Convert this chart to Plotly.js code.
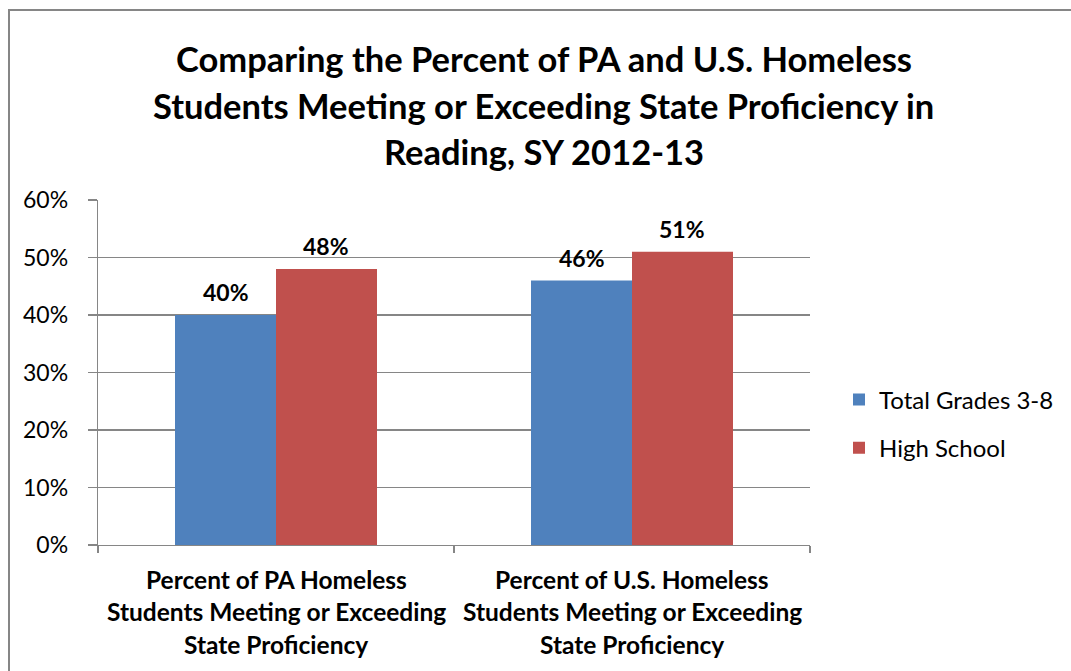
<!DOCTYPE html>
<html>
<head>
<meta charset="utf-8">
<script src="https://cdn.plot.ly/plotly-3.0.1.min.js"></script>
<style>
  html, body { margin: 0; padding: 0; background: #ffffff; }
  #chart { width: 1071px; height: 671px; }
</style>
</head>
<body>
<div id="chart"></div>
<script>
// ---- data ----
const categories = [
  "Percent of PA Homeless<br>Students Meeting or Exceeding<br>State Proficiency",
  "Percent of U.S. Homeless<br>Students Meeting or Exceeding<br>State Proficiency"
];
const seriesNames = ["Total Grades 3-8", "High School"];
const grades38 = [0.40, 0.46];
const highSchool = [0.48, 0.51];
const titleLines = [
  "Comparing the Percent of PA and U.S. Homeless",
  "Students Meeting or Exceeding State Proficiency in",
  "Reading, SY 2012-13"
];
const yTickVals = [0, 0.1, 0.2, 0.3, 0.4, 0.5, 0.6];

// ---- layout geometry ----
const W = 1071, H = 671;
const L = 98, R = 261, T = 200, B = 126;
const PW = W - L - R, PH = H - T - B;
const px2x = p => (p - L) / PW;
const px2y = p => (H - B - p) / PH;

const FONT = "Lato, 'Open Sans', 'Liberation Sans', sans-serif";
const blue = "#4F81BD", red = "#C0504D", gray = "#868686";

const traces = [
  { type: "bar", name: seriesNames[0], x: categories, y: grades38,
    marker: { color: blue }, legendgroup: "a", hoverinfo: "y" },
  { type: "bar", name: seriesNames[1], x: categories, y: highSchool,
    marker: { color: red }, legendgroup: "b", hoverinfo: "y" }
];

const annotations = [];
// title lines
const titleY = [58, 105, 152];
titleLines.forEach((t, i) => {
  annotations.push({
    text: "<b>" + t + "</b>", xref: "paper", yref: "paper",
    x: px2x(W / 2 + 8), y: px2y(titleY[i]), xanchor: "center", yanchor: "middle",
    showarrow: false, font: { family: FONT, size: 34.5, color: "#000" }
  });
});
// category labels
const catY = [579, 611, 644];
categories.forEach(c => {
  c.split("<br>").forEach((line, i) => {
    annotations.push({
      text: "<b>" + line + "</b>", xref: "x", yref: "paper",
      x: c, y: px2y(catY[i]), xanchor: "center", yanchor: "middle",
      showarrow: false, font: { family: FONT, size: 24.5, color: "#000" }
    });
  });
});
// data labels
const barHalf = PW / categories.length * (1 - 0.4326) / 4;
[grades38, highSchool].forEach((vals, s) => {
  vals.forEach((v, i) => {
    annotations.push({
      text: "<b>" + Math.round(v * 100) + "%</b>", xref: "x", yref: "y",
      x: categories[i], y: v, xshift: (s === 0 ? -1 : 1) * barHalf,
      xanchor: "center", yanchor: "bottom", yshift: 7,
      showarrow: false, font: { family: FONT, size: 23, color: "#000" }
    });
  });
});

const layout = {
  width: W, height: H,
  margin: { l: L, r: R, t: T, b: B, pad: 0 },
  paper_bgcolor: "#fff", plot_bgcolor: "#fff",
  barmode: "group", bargap: 0.4326, bargroupgap: 0,
  font: { family: FONT, size: 23, color: "#000" },
  xaxis: {
    type: "category", showticklabels: false, showgrid: false,
    showline: true, linecolor: gray, linewidth: 1.3,
    ticks: "outside", tickson: "boundaries", ticklen: 7, tickcolor: gray, tickwidth: 1.3,
    fixedrange: true
  },
  yaxis: {
    range: [0, 0.6], tickvals: yTickVals, tickformat: ".0%",
    showgrid: true, gridcolor: gray, gridwidth: 1.3, zeroline: false,
    showline: true, linecolor: gray, linewidth: 1.3,
    ticks: "outside", ticklen: 9, tickcolor: gray, tickwidth: 1.3,
    ticklabelstandoff: 15,
    tickfont: { family: FONT, size: 23, color: "#000" },
    fixedrange: true
  },
  legend: {
    x: px2x(839), xanchor: "left", y: px2y(424), yanchor: "middle",
    font: { family: FONT, size: 24, color: "#000" },
    tracegroupgap: 14, bgcolor: "rgba(0,0,0,0)", borderwidth: 0
  },
  showlegend: true,
  annotations: annotations,
  shapes: [{
    type: "rect", xref: "paper", yref: "paper", layer: "below",
    x0: px2x(9), x1: px2x(W + 20), y0: px2y(H + 20), y1: px2y(10),
    line: { color: gray, width: 2 }, fillcolor: "rgba(0,0,0,0)"
  }]
};

Plotly.newPlot("chart", traces, layout, { displayModeBar: false, staticPlot: true });
</script>
</body>
</html>
